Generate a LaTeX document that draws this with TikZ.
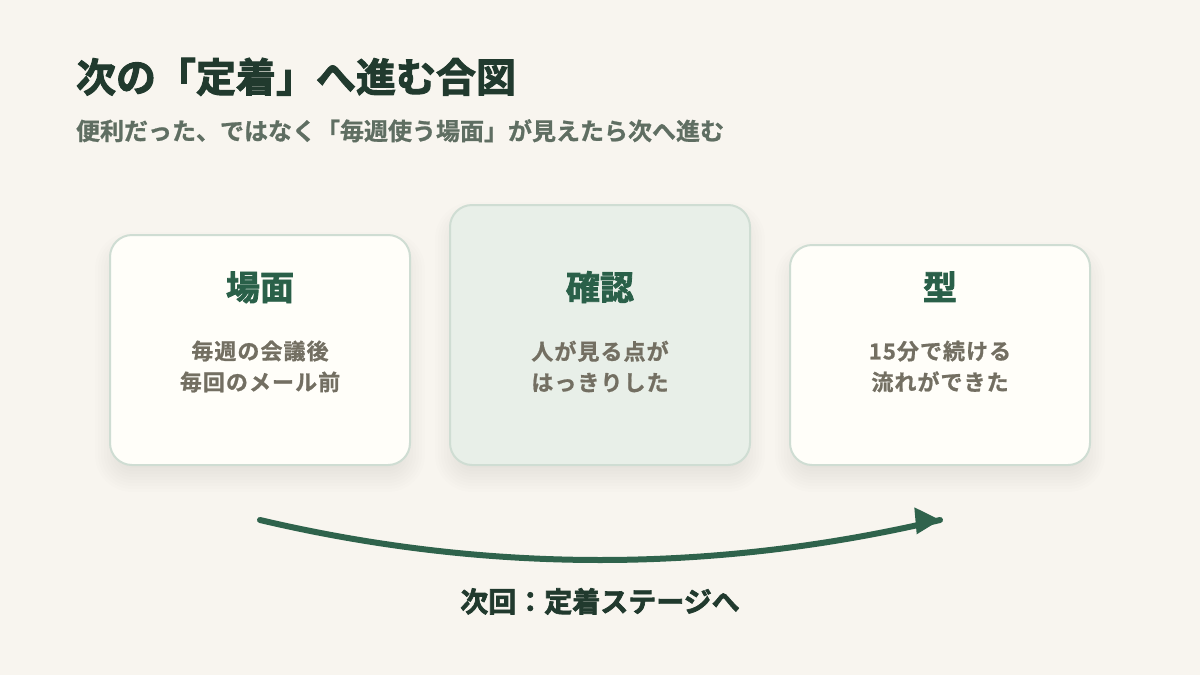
\documentclass[tikz,border=0pt]{standalone}
\usepackage{fontspec}
\usetikzlibrary{calc}
\newfontfamily\jpb{Noto Sans CJK JP Bold}[FakeBold=2.4]
\newfontfamily\jpm{Noto Sans CJK JP Bold}[FakeBold=0.9]
\newfontfamily\jpbody{Noto Sans CJK JP Bold}[LetterSpace=4.8,FakeBold=0.9]
\definecolor{bgc}{HTML}{F8F5EF}
\definecolor{ink}{HTML}{213A2E}
\definecolor{subc}{HTML}{5F6E62}
\definecolor{headc}{HTML}{2A6049}
\definecolor{bodyc}{HTML}{736F62}
\definecolor{edgec}{HTML}{CFDDD3}
\definecolor{cardc}{HTML}{FFFEF9}
\definecolor{cardg}{HTML}{E8EFE8}
\definecolor{arrowc}{HTML}{2F634C}
\definecolor{shadc}{HTML}{26402F}
\tikzset{
  x=0.75pt,y=-0.75pt,
  txt/.style={inner sep=0pt,outer sep=0pt},
  titletxt/.style={txt,anchor=base west,text=ink,font=\jpb\fontsize{30}{36}\selectfont},
  subtxt/.style={txt,anchor=base west,text=subc,font=\jpm\fontsize{18}{24}\selectfont},
  headtxt/.style={txt,anchor=base,text=headc,font=\jpb\fontsize{25.5}{30}\selectfont},
  bodytxt/.style={txt,anchor=center,align=center,text=bodyc,font=\jpbody\fontsize{16.5}{23.25}\selectfont},
  labeltxt/.style={txt,anchor=base,text=ink,font=\jpb\fontsize{21}{26}\selectfont},
  cardbox/.style={draw=edgec,line width=1.5pt,rounded corners=16.5pt,fill=cardc},
  flowline/.style={draw=arrowc,line width=4.5pt,line cap=round},
  flowhead/.style={fill=arrowc,draw=none},
}
\newcommand{\softshadow}[4]{%
  \foreach \g in {15,12,...,-9}{
    \pgfmathsetmacro{\rad}{(22+\g)*0.75}
    \fill[shadc,fill opacity=0.0095,rounded corners=\rad pt]
      (#1-\g,#2+12-\g) rectangle (#3+\g,#4+12+\g);
  }
}
\begin{document}
\begin{tikzpicture}
\useasboundingbox (0,0) rectangle (1200,675);
\fill[bgc] (0,0) rectangle (1200,675);

\node[titletxt] (title) at (76,92) {次の「定着」へ進む合図};
\node[subtxt] (subtitle) at (76,140) {便利だった、ではなく「毎週使う場面」が見えたら次へ進む};

\softshadow{110}{235}{410}{465}
\softshadow{450}{205}{750}{465}
\softshadow{790}{245}{1090}{465}

\draw[cardbox] (110,235) rectangle (410,465);
\draw[cardbox,fill=cardg] (450,205) rectangle (750,465);
\draw[cardbox] (790,245) rectangle (1090,465);

\node[headtxt] (h1) at (260,300) {場面};
\node[headtxt] (h2) at (600,300) {確認};
\node[headtxt] (h3) at (940,300) {型};

\node[bodytxt] (b1) at (260,366.5) {毎週の会議後\\毎回のメール前};
\node[bodytxt] (b2) at (600,366.5) {人が見る点が\\はっきりした};
\node[bodytxt] (b3) at (940,366.5) {15分で続ける\\流れができた};

\coordinate (flowstart) at (260,520);
\coordinate (flowend) at (940,520);
\draw[flowline] (flowstart) .. controls (486.67,573.33) and (713.33,573.33) .. (flowend);
\fill[flowhead] (914.3,507.3) -- (flowend) -- (916.7,534.3) -- cycle;

\node[labeltxt] (next) at (600,612) {次回：定着ステージへ};
\end{tikzpicture}
\end{document}
